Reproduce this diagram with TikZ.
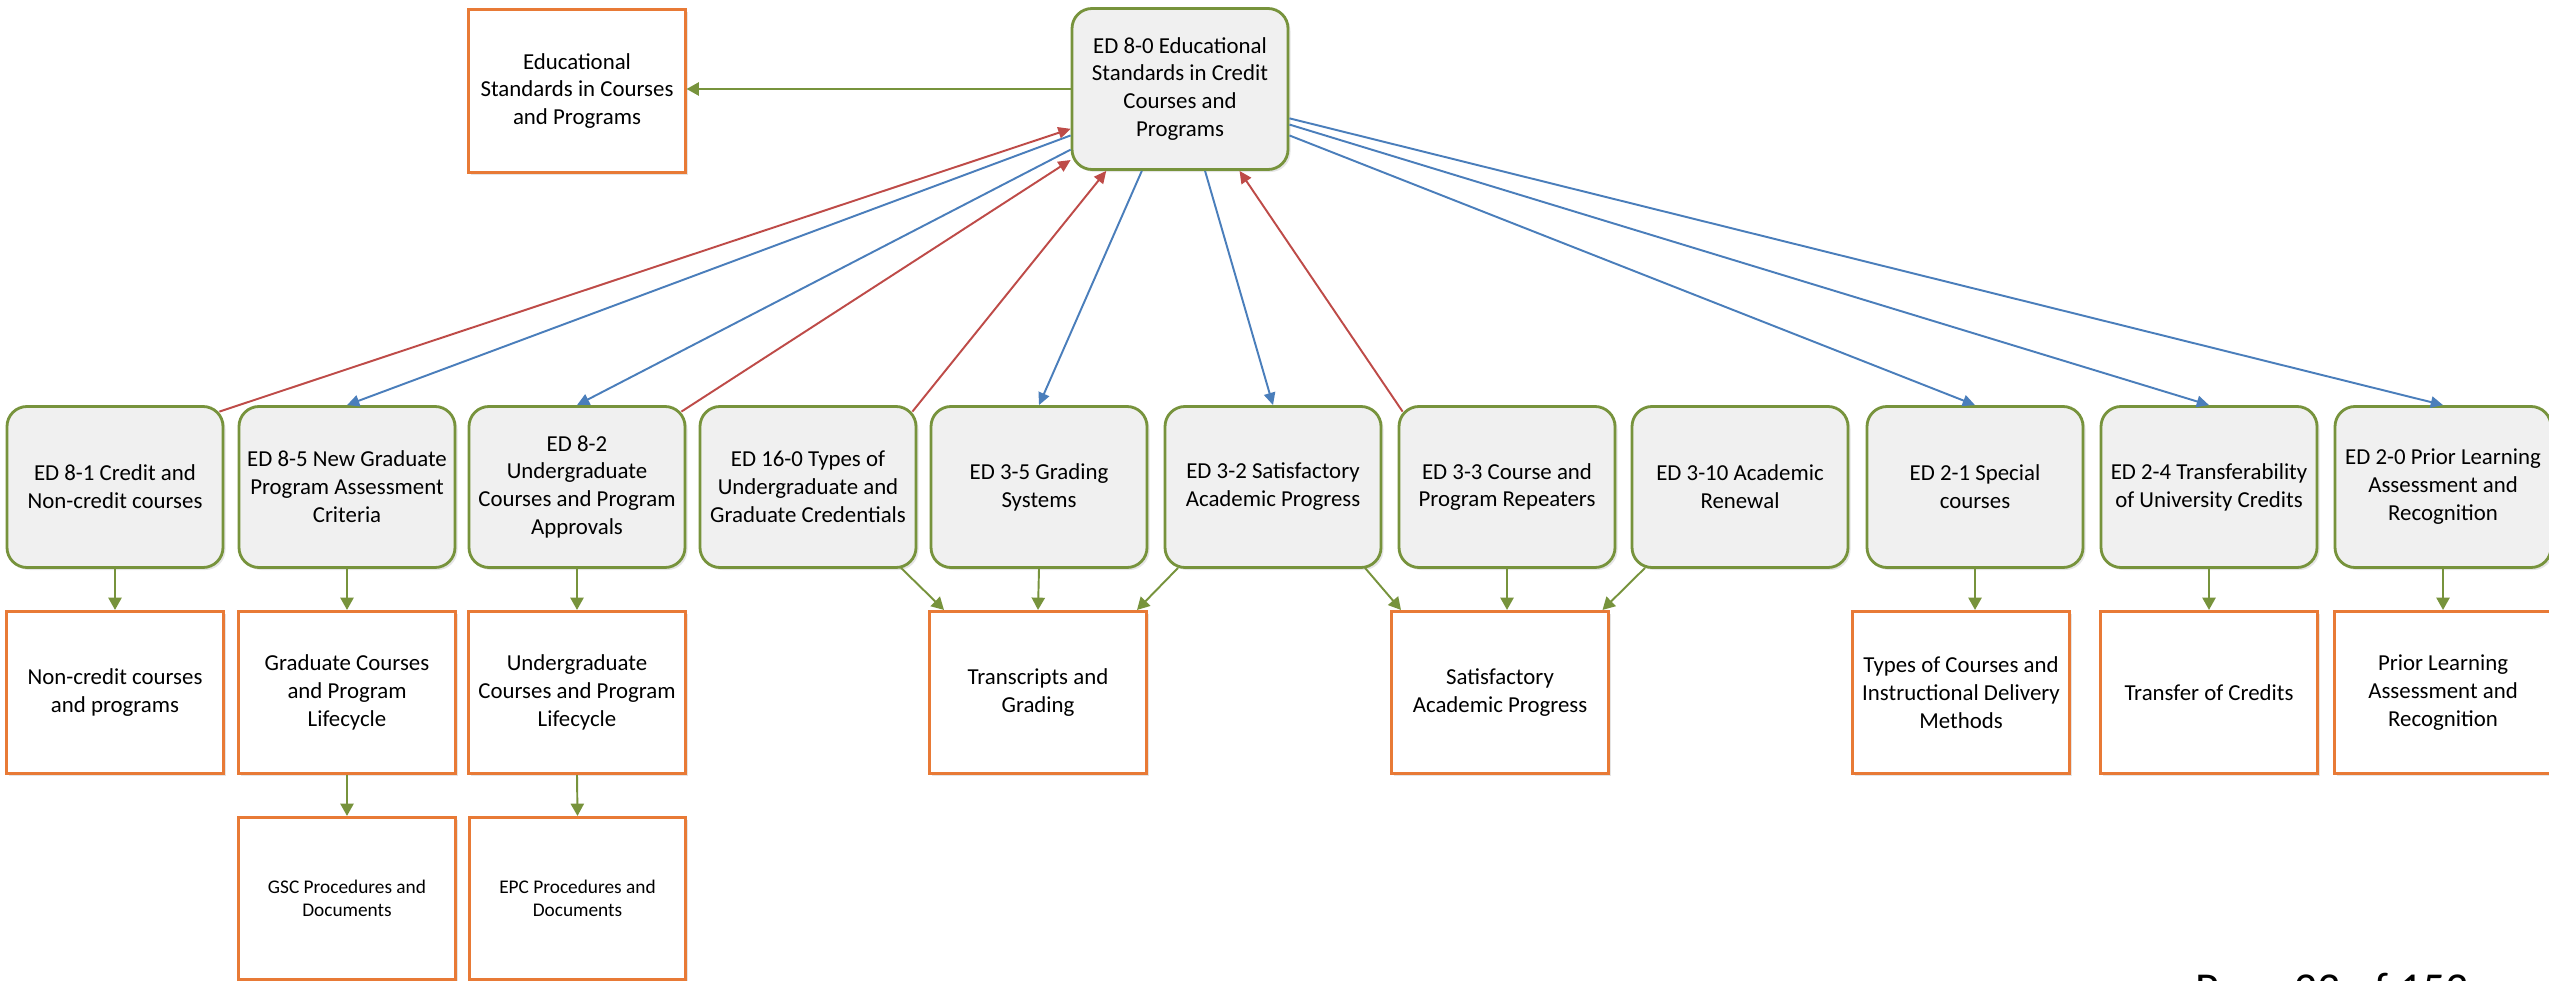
\documentclass[tikz,border=0pt]{standalone}
\usepackage{fontspec}
\setmainfont{Carlito}
\usetikzlibrary{arrows.meta,calc,shadows}
\definecolor{edgreen}{HTML}{77933C}
\definecolor{edgray}{HTML}{F0F0F0}
\definecolor{edorange}{HTML}{E87A36}
\definecolor{edblue}{HTML}{4A7EBB}
\definecolor{edred}{HTML}{BE4B48}
\begin{document}
\begin{tikzpicture}[
  policy/.style={draw=edgreen, line width=1.6pt, fill=edgray, rounded corners=0.4cm,
    minimum width=4.32cm, minimum height=3.22cm, align=center, inner sep=2pt,
    font=\fontsize{13}{15.9}\selectfont,
    drop shadow={shadow xshift=0.05cm, shadow yshift=-0.05cm, opacity=0.2}},
  topic/.style={draw=edorange, line width=1.5pt, fill=white,
    minimum width=4.33cm, minimum height=3.25cm, align=center, inner sep=2pt,
    font=\fontsize{13}{15.9}\selectfont,
    drop shadow={shadow xshift=0.05cm, shadow yshift=-0.05cm, opacity=0.2}},
  smalltopic/.style={topic, font=\fontsize{11}{13.3}\selectfont},
  feed/.style={draw=edgreen, line width=1.1pt, -{Triangle[length=7pt,width=7.5pt]}},
  down/.style={draw=edblue, line width=1.1pt, -{Triangle[length=7pt,width=6.5pt]}},
  up/.style={draw=edred, line width=1.1pt, -{Triangle[length=7pt,width=6.5pt]}}]
  \path[use as bounding box, fill=white] (0,0) rectangle (50.98,-19.6);
  \node[policy] (e80) at (23.6,-1.78) {ED 8-0 Educational\\Standards in Credit\\Courses and\\Programs};
  \node[topic] (stdtop) at (11.54,-1.82) {Educational\\Standards in Courses\\and Programs};
  \node[policy] (e81) at (2.30,-9.74) {ED 8-1 Credit and\\Non-credit courses};
  \node[policy] (e85) at (6.94,-9.74) {ED 8-5 New Graduate\\Program Assessment\\Criteria};
  \node[policy] (e82) at (11.54,-9.74) {ED 8-2\\Undergraduate\\Courses and Program\\Approvals};
  \node[policy] (e160) at (16.16,-9.74) {ED 16-0 Types of\\Undergraduate and\\Graduate Credentials};
  \node[policy] (e35) at (20.78,-9.74) {ED 3-5 Grading\\Systems};
  \node[policy] (e32) at (25.46,-9.74) {ED 3-2 Satisfactory\\Academic Progress};
  \node[policy] (e33) at (30.14,-9.74) {ED 3-3 Course and\\Program Repeaters};
  \node[policy] (e310) at (34.80,-9.74) {ED 3-10 Academic\\Renewal};
  \node[policy] (e21) at (39.50,-9.74) {ED 2-1 Special\\courses};
  \node[policy] (e24) at (44.18,-9.74) {ED 2-4 Transferability\\of University Credits};
  \node[policy] (e20) at (48.86,-9.74) {ED 2-0 Prior Learning\\Assessment and\\Recognition};
  \node[topic] (noncredit) at (2.30,-13.85) {Non-credit courses\\and programs};
  \node[topic] (gradlife) at (6.94,-13.85) {Graduate Courses\\and Program\\Lifecycle};
  \node[topic] (ugradlife) at (11.54,-13.85) {Undergraduate\\Courses and Program\\Lifecycle};
  \node[topic] (transcripts) at (20.76,-13.85) {Transcripts and\\Grading};
  \node[topic] (satprog) at (30.0,-13.85) {Satisfactory\\Academic Progress};
  \node[topic] (coursetypes) at (39.22,-13.85) {Types of Courses and\\Instructional Delivery\\Methods};
  \node[topic] (transfer) at (44.18,-13.85) {Transfer of Credits};
  \node[topic] (priorlearn) at (48.86,-13.85) {Prior Learning\\Assessment and\\Recognition};
  \node[smalltopic] (gscdocs) at (6.94,-17.97) {GSC Procedures and\\Documents};
  \node[smalltopic] (epcdocs) at (11.55,-17.97) {EPC Procedures and\\Documents};
  \node[anchor=north west, inner sep=0pt, font=\fontsize{26}{30}\selectfont] (pagenote) at (43.9,-19.46) {Page 23 of 153};
  \draw[feed] (e80.west) -- (e80.west -| stdtop.east);
  \draw[up] ($(e81.north east)+(-0.1,-0.13)$) -- (e80.200);
  \draw[down] (e80.203) -- (e85.north);
  \draw[down] (e80.209) -- (e82.north);
  \draw[up] ($(e82.north east)+(-0.1,-0.13)$) -- (e80.213);
  \draw[up] ($(e160.north east)+(-0.1,-0.13)$) -- (e80.228);
  \draw[down] (e80.245) -- (e35.north);
  \draw[down] (e80.287) -- (e32.north);
  \draw[up] ($(e33.north west)+(0.1,-0.13)$) -- (e80.306);
  \draw[down] (e80.337) -- (e21.north);
  \draw[down] (e80.342) -- (e24.north);
  \draw[down] (e80.345) -- (e20.north);
  \draw[feed] (e81.south) -- (noncredit.north);
  \draw[feed] (e85.south) -- (gradlife.north);
  \draw[feed] (e82.south) -- (ugradlife.north);
  \draw[feed] ($(e160.south)+(1.86,0.02)$) -- ($(transcripts.north)+(-1.88,0)$);
  \draw[feed] (e35.south) -- (transcripts.north);
  \draw[feed] ($(e32.south)+(-1.9,0.02)$) -- ($(transcripts.north)+(1.98,0)$);
  \draw[feed] ($(e32.south)+(1.84,0.02)$) -- ($(satprog.north)+(-1.98,0)$);
  \draw[feed] (e33.south) -- (e33.south |- satprog.north);
  \draw[feed] ($(e310.south)+(-1.9,0.02)$) -- ($(satprog.north)+(2.05,0)$);
  \draw[feed] (e21.south) -- (e21.south |- coursetypes.north);
  \draw[feed] (e24.south) -- (transfer.north);
  \draw[feed] (e20.south) -- (priorlearn.north);
  \draw[feed] (gradlife.south) -- (gscdocs.north);
  \draw[feed] (ugradlife.south) -- (epcdocs.north);
\end{tikzpicture}
\end{document}
